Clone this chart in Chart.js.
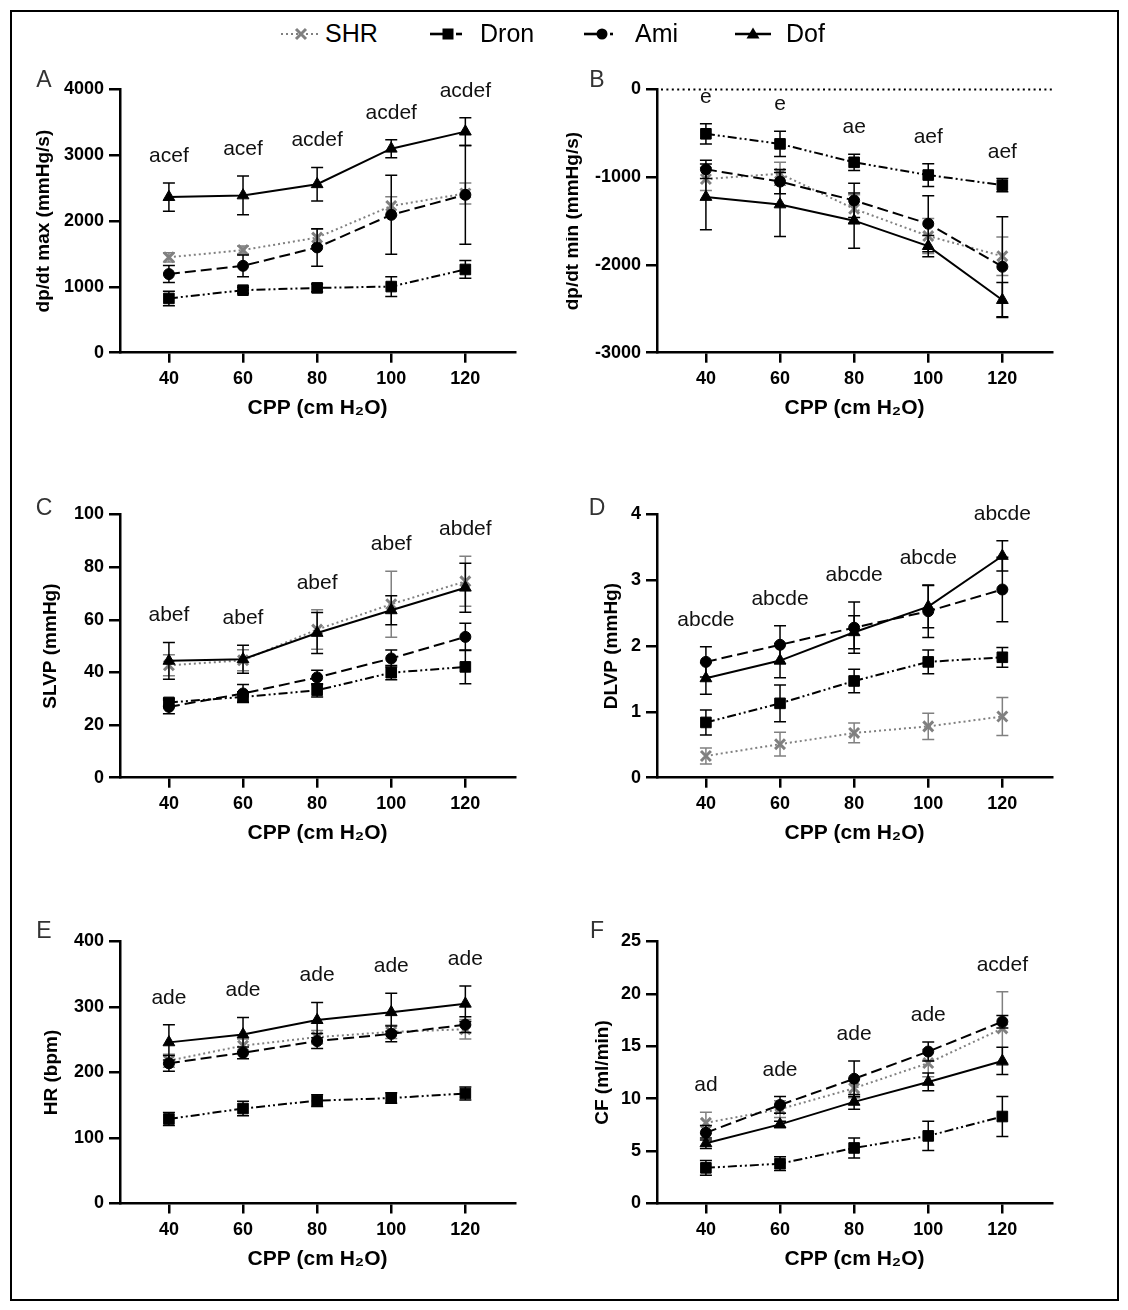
<!DOCTYPE html>
<html>
<head>
<meta charset="utf-8">
<script src="https://cdn.jsdelivr.net/npm/chart.js@4.4.1/dist/chart.umd.min.js"></script>
<style>
html,body{margin:0;padding:0;background:#fff;}
body{width:1128px;height:1310px;position:relative;overflow:hidden;font-family:"Liberation Sans",Arial,sans-serif;}
#frame{position:absolute;left:10px;top:10px;width:1105px;height:1287px;border:2px solid #000;box-sizing:content-box;}
.pc{position:absolute;}
.pc canvas{display:block;}
.plabel{position:absolute;font-size:23px;line-height:23px;color:#333;transform:translateX(-50%);}
.legsym{position:absolute;top:24px;width:40px;height:20px;}
.legtxt{position:absolute;top:21px;font-size:25px;line-height:25px;color:#000;}
</style>
</head>
<body>
<div id="frame"></div>
<script>
// ---------------- data ----------------
const cpp = [40, 60, 80, 100, 120];
const xTickLabels = [40, 60, 80, 100, 120];
const seriesNames = ['SHR', 'Dron', 'Ami', 'Dof'];

// A: dp/dt max (mmHg/s)
const dpdtMaxSHR = [1450, 1560, 1750, 2230, 2420];
const dpdtMaxSHRErr = [70, 60, 125, 140, 160];
const dpdtMaxDron = [825, 950, 985, 1005, 1265];
const dpdtMaxDronErr = [110, 45, 60, 150, 135];
const dpdtMaxAmi = [1195, 1320, 1600, 2095, 2400];
const dpdtMaxAmiErr = [130, 165, 285, 600, 750];
const dpdtMaxDof = [2365, 2390, 2560, 3100, 3360];
const dpdtMaxDofErr = [215, 295, 255, 137, 210];
const dpdtMaxTicks = [0, 1000, 2000, 3000, 4000];
const dpdtMaxSig = ['acef', 'acef', 'acdef', 'acdef', 'acdef'];

// B: dp/dt min (mmHg/s)
const dpdtMinSHR = [-1020, -960, -1360, -1670, -1900];
const dpdtMinSHRErr = [130, 130, 160, 200, 220];
const dpdtMinDron = [-505, -620, -830, -975, -1090];
const dpdtMinDronErr = [115, 145, 92, 130, 75];
const dpdtMinAmi = [-910, -1050, -1265, -1530, -2020];
const dpdtMinAmiErr = [105, 138, 195, 320, 570];
const dpdtMinDof = [-1225, -1310, -1495, -1785, -2400];
const dpdtMinDofErr = [375, 365, 315, 120, 200];
const dpdtMinTicks = [-3000, -2000, -1000, 0];
const dpdtMinSig = ['e', 'e', 'ae', 'aef', 'aef'];

// C: SLVP (mmHg)
const slvpSHR = [42.7, 44.6, 56.3, 65.9, 74.6];
const slvpSHRErr = [4, 4, 7.5, 12.5, 9.5];
const slvpDron = [28.6, 30.7, 33.2, 39.9, 42.1];
const slvpDronErr = [1.5, 2, 2.5, 2.7, 6.4];
const slvpAmi = [26.9, 32.0, 38.1, 45.3, 53.5];
const slvpAmiErr = [2.6, 3.4, 2.7, 3.2, 5.2];
const slvpDof = [44.4, 45.0, 55.0, 63.6, 72.2];
const slvpDofErr = [7, 5.3, 7.8, 5.5, 9.3];
const slvpTicks = [0, 20, 40, 60, 80, 100];
const slvpSig = ['abef', 'abef', 'abef', 'abef', 'abdef'];

// D: DLVP (mmHg)
const dlvpSHR = [0.33, 0.51, 0.68, 0.78, 0.93];
const dlvpSHRErr = [0.12, 0.18, 0.15, 0.2, 0.29];
const dlvpDron = [0.84, 1.13, 1.47, 1.76, 1.83];
const dlvpDronErr = [0.19, 0.28, 0.18, 0.18, 0.15];
const dlvpAmi = [1.76, 2.02, 2.28, 2.53, 2.86];
const dlvpAmiErr = [0.23, 0.29, 0.39, 0.4, 0.49];
const dlvpDof = [1.51, 1.78, 2.21, 2.60, 3.37];
const dlvpDofErr = [0.24, 0.26, 0.25, 0.32, 0.23];
const dlvpTicks = [0, 1, 2, 3, 4];
const dlvpSig = ['abcde', 'abcde', 'abcde', 'abcde', 'abcde'];

// E: HR (bpm)
const hrSHR = [218, 241, 254, 262, 266];
const hrSHRErr = [10, 10, 10, 10, 15];
const hrDron = [129, 145, 157, 161, 168];
const hrDronErr = [10, 11, 9, 8, 10];
const hrAmi = [214, 230, 248, 259, 273];
const hrAmiErr = [12, 9, 11.5, 12, 12];
const hrDof = [246, 258, 280, 292, 305];
const hrDofErr = [27, 26, 27, 29, 27];
const hrTicks = [0, 100, 200, 300, 400];
const hrSig = ['ade', 'ade', 'ade', 'ade', 'ade'];

// F: CF (ml/min)
const cfSHR = [7.7, 9.0, 11.0, 13.4, 16.7];
const cfSHRErr = [1.0, 0.8, 0.9, 1.3, 3.5];
const cfDron = [3.4, 3.8, 5.3, 6.45, 8.3];
const cfDronErr = [0.7, 0.65, 0.95, 1.4, 1.9];
const cfAmi = [6.75, 9.4, 11.9, 14.5, 17.35];
const cfAmiErr = [0.7, 0.8, 1.7, 0.9, 0.6];
const cfDof = [5.75, 7.55, 9.7, 11.6, 13.6];
const cfDofErr = [0.5, 0.3, 0.7, 0.85, 1.3];
const cfTicks = [0, 5, 10, 15, 20, 25];
const cfSig = ['ad', 'ade', 'ade', 'ade', 'acdef'];

// ---------------- styles & layout ----------------
const FONT = '"Liberation Sans", Arial, Helvetica, sans-serif';
Chart.defaults.font.family = FONT;
const GRAY = '#808080';
const seriesStyle = [
  {color: GRAY, dash: [2, 3], point: 'crossRot', r: 7, pbw: 3, order: 4},
  {color: '#000', dash: [9, 3, 2, 3, 2, 3], point: 'rect', r: 7.5, pbw: 1, order: 3},
  {color: '#000', dash: [11, 5], point: 'circle', r: 5.5, pbw: 1, order: 2},
  {color: '#000', dash: [], point: 'triangle', r: 6.8, pbw: 1, order: 1}
];

const colGeom = [
  {left: 12, width: 538, axisX: 120, right: 515, letterX: 44},
  {left: 566, width: 544, axisX: 657, right: 1052, letterX: 597}
];
const rowGeom = [
  {top: 89.5, bottom: 352.7, xTitle: 408, letterY: 68},
  {top: 514.5, bottom: 777.7, xTitle: 833, letterY: 496},
  {top: 941.5, bottom: 1203.5, xTitle: 1259, letterY: 919}
];
const X_MIN = 26.8, X_MAX = 133.4;
const TICK_SIZE = 18, X_TITLE_SIZE = 21, Y_TITLE_SIZE = 19;

const panels = [
  {letter: 'A', col: 0, row: 0, titleX: 44, yTitle: 'dp/dt max (mmHg/s)', ticks: dpdtMaxTicks, sig: dpdtMaxSig,
   vals: [dpdtMaxSHR, dpdtMaxDron, dpdtMaxAmi, dpdtMaxDof], errs: [dpdtMaxSHRErr, dpdtMaxDronErr, dpdtMaxAmiErr, dpdtMaxDofErr]},
  {letter: 'B', col: 1, row: 0, titleX: 573, yTitle: 'dp/dt min (mmHg/s)', ticks: dpdtMinTicks, sig: dpdtMinSig, zeroLine: true,
   vals: [dpdtMinSHR, dpdtMinDron, dpdtMinAmi, dpdtMinDof], errs: [dpdtMinSHRErr, dpdtMinDronErr, dpdtMinAmiErr, dpdtMinDofErr]},
  {letter: 'C', col: 0, row: 1, titleX: 51, yTitle: 'SLVP (mmHg)', ticks: slvpTicks, sig: slvpSig,
   vals: [slvpSHR, slvpDron, slvpAmi, slvpDof], errs: [slvpSHRErr, slvpDronErr, slvpAmiErr, slvpDofErr]},
  {letter: 'D', col: 1, row: 1, titleX: 612, yTitle: 'DLVP (mmHg)', ticks: dlvpTicks, sig: dlvpSig,
   vals: [dlvpSHR, dlvpDron, dlvpAmi, dlvpDof], errs: [dlvpSHRErr, dlvpDronErr, dlvpAmiErr, dlvpDofErr]},
  {letter: 'E', col: 0, row: 2, titleX: 52, yTitle: 'HR (bpm)', ticks: hrTicks, sig: hrSig,
   vals: [hrSHR, hrDron, hrAmi, hrDof], errs: [hrSHRErr, hrDronErr, hrAmiErr, hrDofErr]},
  {letter: 'F', col: 1, row: 2, titleX: 603, yTitle: 'CF (ml/min)', ticks: cfTicks, sig: cfSig,
   vals: [cfSHR, cfDron, cfAmi, cfDof], errs: [cfSHRErr, cfDronErr, cfAmiErr, cfDofErr]}
];

// ---------------- plugins ----------------
const errorBarPlugin = {
  id: 'errbars',
  beforeDatasetDraw(chart, args) {
    const ds = chart.data.datasets[args.index];
    const {ctx, scales: {x, y}} = chart;
    ctx.save();
    ctx.strokeStyle = ds.errColor;
    ctx.lineWidth = 1.5;
    ctx.setLineDash([]);
    ds.data.forEach((pt, j) => {
      const e = ds.errs[j];
      const px = x.getPixelForValue(pt.x);
      const y1 = y.getPixelForValue(pt.y + e);
      const y2 = y.getPixelForValue(pt.y - e);
      ctx.beginPath();
      ctx.moveTo(px, y1); ctx.lineTo(px, y2);
      ctx.moveTo(px - 6, y1); ctx.lineTo(px + 6, y1);
      ctx.moveTo(px - 6, y2); ctx.lineTo(px + 6, y2);
      ctx.stroke();
    });
    ctx.restore();
  }
};

function makeSigPlugin(p) {
  return {
    id: 'sig' + p.letter,
    beforeDatasetsDraw(chart) {
      if (!p.zeroLine) return;
      const {ctx, chartArea, scales: {y}} = chart;
      const py = y.getPixelForValue(0);
      ctx.save();
      ctx.strokeStyle = '#000';
      ctx.lineWidth = 2;
      ctx.setLineDash([2, 3.4]);
      ctx.beginPath();
      ctx.moveTo(chartArea.left + 4, py);
      ctx.lineTo(chartArea.right, py);
      ctx.stroke();
      ctx.restore();
    },
    afterDatasetsDraw(chart) {
      const {ctx, scales: {x, y}} = chart;
      ctx.save();
      ctx.font = '21px ' + FONT;
      ctx.fillStyle = '#111';
      ctx.textAlign = 'center';
      ctx.textBaseline = 'alphabetic';
      p.sig.forEach((t, j) => {
        let top = -Infinity;
        chart.data.datasets.forEach(ds => { top = Math.max(top, ds.data[j].y + ds.errs[j]); });
        ctx.fillText(t, x.getPixelForValue(cpp[j]), y.getPixelForValue(top) - 21);
      });
      ctx.restore();
    }
  };
}

// ---------------- build ----------------
function buildPanel(p) {
  const col = colGeom[p.col], row = rowGeom[p.row];
  const xLH = X_TITLE_SIZE * 1.2;
  const yLH = Y_TITLE_SIZE * 1.2;
  const xAxisH = row.xTitle + xLH / 2 - row.bottom;
  const cTop = Math.floor(row.top) - 40;
  const padTop = row.top - cTop;
  const cH = Math.ceil(padTop + (row.bottom - row.top) + xAxisH + 8);
  const padBottom = cH - padTop - (row.bottom - row.top) - xAxisH;
  const padRight = col.left + col.width - col.right;
  const yAxisW = col.axisX - col.left;
  const titlePadTop = p.titleX - col.left - yLH / 2;

  const div = document.createElement('div');
  div.className = 'pc';
  div.style.left = col.left + 'px';
  div.style.top = cTop + 'px';
  div.style.width = col.width + 'px';
  div.style.height = cH + 'px';
  const cv = document.createElement('canvas');
  div.appendChild(cv);
  document.body.appendChild(div);

  const lab = document.createElement('div');
  lab.className = 'plabel';
  lab.textContent = p.letter;
  lab.style.left = col.letterX + 'px';
  lab.style.top = row.letterY + 'px';
  document.body.appendChild(lab);

  const datasets = seriesStyle.map((st, i) => ({
    label: seriesNames[i],
    data: cpp.map((xv, j) => ({x: xv, y: p.vals[i][j]})),
    errs: p.errs[i],
    errColor: st.color,
    borderColor: st.color,
    backgroundColor: st.color,
    borderWidth: 2,
    borderDash: st.dash,
    borderCapStyle: 'butt',
    pointStyle: st.point,
    pointRadius: st.r,
    pointHoverRadius: st.r,
    pointBorderWidth: st.pbw,
    pointBackgroundColor: st.color,
    pointBorderColor: st.color,
    tension: 0,
    fill: false,
    order: st.order,
    clip: false
  }));

  const yMin = p.ticks[0], yMax = p.ticks[p.ticks.length - 1];
  const plain = v => String(v);

  new Chart(cv, {
    type: 'line',
    data: {datasets},
    plugins: [errorBarPlugin, makeSigPlugin(p)],
    options: {
      responsive: true,
      maintainAspectRatio: false,
      animation: false,
      events: [],
      layout: {padding: {left: 0, top: padTop, right: padRight, bottom: padBottom}},
      plugins: {legend: {display: false}, tooltip: {enabled: false}},
      scales: {
        x: {
          type: 'linear', min: X_MIN, max: X_MAX,
          afterBuildTicks: s => { s.ticks = xTickLabels.map(v => ({value: v})); },
          afterFit: s => { s.height = xAxisH; },
          grid: {display: true, drawOnChartArea: false, drawTicks: true, tickLength: 10, color: '#000', lineWidth: 2.5},
          border: {display: true, color: '#000', width: 2.5},
          ticks: {color: '#000', font: {size: TICK_SIZE, weight: 'bold'}, padding: 6, maxRotation: 0, autoSkip: false, callback: plain},
          title: {display: true, text: 'CPP (cm H\u2082O)', color: '#000', font: {size: X_TITLE_SIZE, weight: 'bold'}, padding: {top: 0, bottom: 0}}
        },
        y: {
          type: 'linear', min: yMin, max: yMax,
          afterBuildTicks: s => { s.ticks = p.ticks.map(v => ({value: v})); },
          afterFit: s => { s.width = yAxisW; },
          grid: {display: true, drawOnChartArea: false, drawTicks: true, tickLength: 11, color: '#000', lineWidth: 2.5},
          border: {display: true, color: '#000', width: 2.5},
          ticks: {color: '#000', font: {size: TICK_SIZE, weight: 'bold'}, padding: 5, autoSkip: false, callback: plain},
          title: {display: true, text: p.yTitle, color: '#000', font: {size: Y_TITLE_SIZE, weight: 'bold'}, padding: {top: titlePadTop, bottom: 0}}
        }
      }
    }
  });
}

panels.forEach(buildPanel);

// ---------------- legend ----------------
const legendItems = [
  {sym: 301, txt: 325, svg: '<line x1="0" y1="10" x2="40" y2="10" stroke="#808080" stroke-width="2.2" stroke-dasharray="2 3"/><path d="M15 5 L25 15 M25 5 L15 15" stroke="#808080" stroke-width="3"/>'},
  {sym: 448, txt: 480, svg: '<line x1="2" y1="10" x2="16" y2="10" stroke="#000" stroke-width="2.6"/><rect x="14.5" y="4.5" width="11" height="11" fill="#000"/><line x1="28" y1="10" x2="34" y2="10" stroke="#000" stroke-width="2.6"/>'},
  {sym: 602, txt: 635, svg: '<line x1="2" y1="10" x2="16" y2="10" stroke="#000" stroke-width="2.6"/><circle cx="20" cy="10" r="5.5" fill="#000"/><line x1="28" y1="10" x2="31" y2="10" stroke="#000" stroke-width="2.6"/>'},
  {sym: 753, txt: 786, svg: '<line x1="2" y1="10" x2="38" y2="10" stroke="#000" stroke-width="2.6"/><path d="M20 3.5 L26.5 14.5 L13.5 14.5 Z" fill="#000"/>'}
];
legendItems.forEach((it, i) => {
  const s = document.createElementNS('http://www.w3.org/2000/svg', 'svg');
  s.setAttribute('class', 'legsym');
  s.setAttribute('viewBox', '0 0 40 20');
  s.style.left = (it.sym - 20) + 'px';
  s.innerHTML = it.svg;
  document.body.appendChild(s);
  const t = document.createElement('div');
  t.className = 'legtxt';
  t.style.left = it.txt + 'px';
  t.textContent = seriesNames[i];
  document.body.appendChild(t);
});
</script>
</body>
</html>
